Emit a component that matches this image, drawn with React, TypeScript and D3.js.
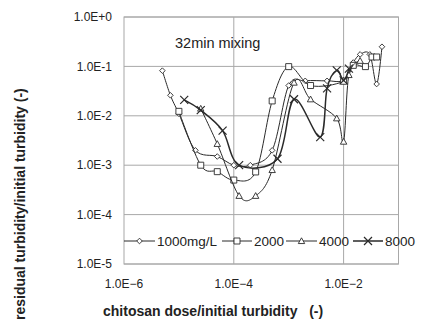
import React from "react";
import * as d3 from "d3";

// Chitosan dose / initial turbidity (x) vs residual / initial turbidity (y)
const doses1000 = [5e-6, 7e-6, 1e-5, 2e-5, 5e-5, 1e-4, 2e-4, 5e-4, 1e-3, 2e-3, 5e-3, 1e-2, 1.5e-2, 2e-2, 3e-2, 4e-2, 5e-2];
const ratio1000 = [0.082, 0.026, 0.011, 0.002, 0.0015, 0.001, 0.001, 0.002, 0.041, 0.051, 0.051, 0.053, 0.12, 0.175, 0.175, 0.044, 0.25];

const doses2000 = [1e-5, 2.5e-5, 5e-5, 1e-4, 2.5e-4, 5e-4, 1e-3, 2.5e-3, 1e-2, 1.5e-2, 2.5e-2, 3.3e-2, 4e-2];
const ratio2000 = [0.0123, 0.001, 0.00074, 0.0005, 0.00073, 0.02, 0.099, 0.041, 0.05, 0.105, 0.099, 0.155, 0.155];

const doses4000 = [2.5e-5, 5e-5, 1.25e-4, 2.5e-4, 5e-4, 1.25e-3, 2.5e-3, 7.5e-3, 1e-2, 1.25e-2, 2e-2];
const ratio4000 = [0.014, 0.0027, 0.00024, 0.00024, 0.0008, 0.047, 0.0216, 0.0089, 0.003, 0.067, 0.13];

const doses8000 = [1.25e-5, 2.5e-5, 6.25e-5, 1.25e-4, 6.25e-4, 1.25e-3, 3.75e-3, 5e-3, 7.5e-3, 1e-2, 1.25e-2];
const ratio8000 = [0.021, 0.013, 0.005, 0.001, 0.00135, 0.0216, 0.0037, 0.036, 0.083, 0.052, 0.09];

const seriesNames = ["1000mg/L", "2000", "4000", "8000"];
const yTickValues = [1, 1e-1, 1e-2, 1e-3, 1e-4, 1e-5];
const yTickLabels = ["1.0E+0", "1.0E-1", "1.0E-2", "1.0E-3", "1.0E-4", "1.0E-5"];
const xTickValues = [1e-6, 1e-4, 1e-2];
const xTickLabels = ["1.0E\u22126", "1.0E\u22124", "1.0E\u22122"];

const W = 422;
const H = 324;
const plot = { left: 124, right: 398.5, top: 17, bottom: 264 };
const font = "'Liberation Sans', Arial, sans-serif";
const ink = "#2a2a2a";
const grid = "#a8a8a8";

const x = d3.scaleLog().domain([1e-6, 1e-1]).range([plot.left, plot.right]);
const y = d3.scaleLog().domain([1e-5, 1]).range([plot.bottom, plot.top]);

type Shape = "diamond" | "square" | "triangle" | "cross";

function markerPath(shape: Shape, cx: number, cy: number): string {
  switch (shape) {
    case "diamond": {
      const r = 2.8;
      return `M${cx},${cy - r}L${cx + r},${cy}L${cx},${cy + r}L${cx - r},${cy}Z`;
    }
    case "square": {
      const r = 3;
      return `M${cx - r},${cy - r}h${2 * r}v${2 * r}h${-2 * r}Z`;
    }
    case "triangle": {
      const r = 3.2;
      return `M${cx},${cy - r}L${cx + r},${cy + r * 0.8}L${cx - r},${cy + r * 0.8}Z`;
    }
    default: {
      const r = 4;
      return `M${cx - r},${cy - r}L${cx + r},${cy + r}M${cx - r},${cy + r}L${cx + r},${cy - r}`;
    }
  }
}

const series = [
  { name: seriesNames[0], xs: doses1000, ys: ratio1000, shape: "diamond" as Shape, width: 1 },
  { name: seriesNames[1], xs: doses2000, ys: ratio2000, shape: "square" as Shape, width: 1 },
  { name: seriesNames[2], xs: doses4000, ys: ratio4000, shape: "triangle" as Shape, width: 1 },
  { name: seriesNames[3], xs: doses8000, ys: ratio8000, shape: "cross" as Shape, width: 1.5 },
];

const line = d3
  .line<[number, number]>()
  .x((d) => x(d[0]))
  .y((d) => y(d[1]))
  .curve(d3.curveCatmullRom.alpha(0));

// Legend layout: [line start, line end, label x]
const legendItems = [
  [124, 155, 157],
  [222, 252, 254],
  [286, 317, 319],
  [353, 383, 385],
];
const legendY = 241;

export default function App() {
  return (
    <svg
      width={W}
      height={H}
      style={{ position: "absolute", left: 0, top: 0, background: "#fff" }}
      fontFamily={font}
    >
      <rect x={0} y={0} width={W} height={H} fill="#fff" />

      {/* horizontal gridlines */}
      {yTickValues.map((v) => (
        <line key={"gy" + v} x1={plot.left} x2={plot.right} y1={y(v)} y2={y(v)} stroke={grid} strokeWidth={1} />
      ))}
      {/* vertical gridlines */}
      {xTickValues.slice(1).map((v) => (
        <line key={"gx" + v} x1={x(v)} x2={x(v)} y1={plot.top} y2={plot.bottom} stroke={grid} strokeWidth={1} />
      ))}
      <rect
        x={plot.left}
        y={plot.top}
        width={plot.right - plot.left}
        height={plot.bottom - plot.top}
        fill="none"
        stroke={grid}
        strokeWidth={1}
      />

      {/* y tick labels */}
      {yTickValues.map((v, i) => (
        <text key={"ty" + v} x={112} y={y(v)} dy="0.35em" textAnchor="end" fontSize={12} fill="#222">
          {yTickLabels[i]}
        </text>
      ))}
      {/* x tick labels */}
      {xTickValues.map((v, i) => (
        <text key={"tx" + v} x={x(v)} y={288} textAnchor="middle" fontSize={12} fill="#222">
          {xTickLabels[i]}
        </text>
      ))}

      <text x={175} y={48} fontSize={14.5} fill="#222">
        32min mixing
      </text>

      {/* series */}
      {series.map((s) => {
        const pts = s.xs.map((d, i) => [d, s.ys[i]] as [number, number]);
        return (
          <g key={s.name}>
            <path d={line(pts) ?? ""} fill="none" stroke={ink} strokeWidth={s.width} />
            {pts.map((p, i) => (
              <path
                key={i}
                d={markerPath(s.shape, x(p[0]), y(p[1]))}
                fill={s.shape === "cross" ? "none" : "#fff"}
                stroke={ink}
                strokeWidth={s.shape === "cross" ? 1.2 : 0.9}
              />
            ))}
          </g>
        );
      })}

      {/* legend */}
      {series.map((s, i) => {
        const [x0, x1, tx] = legendItems[i];
        const mx = (x0 + x1) / 2;
        return (
          <g key={"lg" + s.name}>
            <line x1={x0} x2={x1} y1={legendY} y2={legendY} stroke={ink} strokeWidth={s.width} />
            <path
              d={markerPath(s.shape, mx, legendY)}
              fill={s.shape === "cross" ? "none" : "#fff"}
              stroke={ink}
              strokeWidth={s.shape === "cross" ? 1.2 : 0.9}
            />
            <text x={tx} y={legendY} dy="0.35em" fontSize={13.5} fill="#222">
              {s.name}
            </text>
          </g>
        );
      })}

      {/* axis titles */}
      <text x={103} y={316} fontSize={14} fontWeight="bold" fill="#222" xmlSpace="preserve">
        {"chitosan dose/initial turbidity   (-)"}
      </text>
      <text
        transform={`translate(25,320) rotate(-90)`}
        fontSize={14}
        fontWeight="bold"
        fill="#222"
      >
        residual turbidity/initial turbidity (-)
      </text>
    </svg>
  );
}
